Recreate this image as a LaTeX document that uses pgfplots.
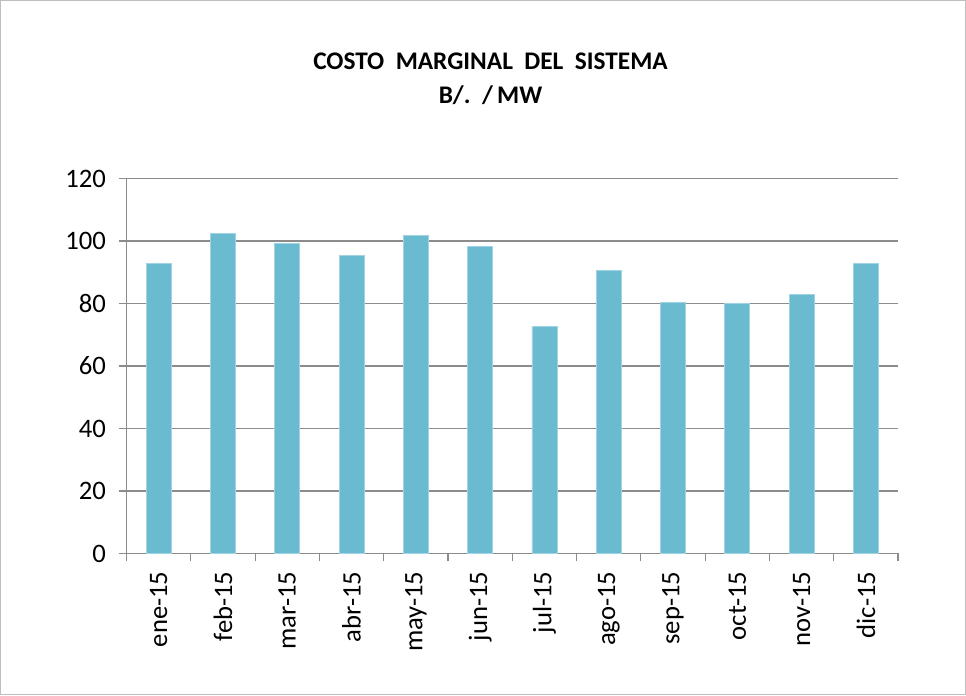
\documentclass[border=0pt]{standalone}
\usepackage{fontspec}
\setmainfont{Carlito}
\usepackage{pgfplots}
\pgfplotsset{compat=1.18}
\definecolor{barfill}{RGB}{107,187,208}
\definecolor{baredge}{RGB}{160,212,226}
\definecolor{gridc}{RGB}{140,140,140}
\definecolor{framec}{RGB}{190,190,190}
\begin{document}
\begin{tikzpicture}
% outer chart frame (1px = 0.75pt)
\draw[framec, line width=0.8pt] (-94.5pt,-105.75pt) rectangle (629.25pt,414.75pt);
\begin{axis}[
  at={(0pt,0pt)}, anchor=south west,
  scale only axis,
  width=578.7pt, height=281.25pt,
  ybar, bar width=18.75pt,
  xmin=-0.5, xmax=11.5,
  ymin=0, ymax=120,
  ytick={0,20,...,120},
  xtick={0,...,11},
  xticklabels={ene-15,feb-15,mar-15,abr-15,may-15,jun-15,jul-15,ago-15,sep-15,oct-15,nov-15,dic-15},
  minor xtick={-0.5,0.5,...,11.5},
  major x tick style={draw=none},
  tick align=outside,
  major tick length=6pt,
  minor tick length=6pt,
  axis x line*=bottom,
  axis y line*=left,
  axis line style={gridc, line width=0.9pt},
  every tick/.style={gridc, line width=0.9pt},
  ymajorgrids, grid style={gridc, line width=0.9pt},
  x tick label style={yshift=-4pt, rotate=90, anchor=east, font=\fontsize{20}{23}\selectfont},
  y tick label style={font=\fontsize{20}{23}\selectfont, xshift=-6pt},
  /pgf/number format/assume math mode=true,
  clip=false,
]
\addplot[fill=barfill, draw=baredge, line width=0.6pt] coordinates {
(0,92.7) (1,102.3) (2,99.2) (3,95.3) (4,101.9) (5,98.2)
(6,72.6) (7,90.6) (8,80.4) (9,79.9) (10,82.9) (11,92.7)
};
\end{axis}
\node[align=center, font=\fontsize{19}{25.5}\selectfont\bfseries] at (273pt,356.25pt)
  {COSTO\ \ MARGINAL\ \ DEL\ \ SISTEMA\\B/.\ \ /\,MW};
\end{tikzpicture}
\end{document}
